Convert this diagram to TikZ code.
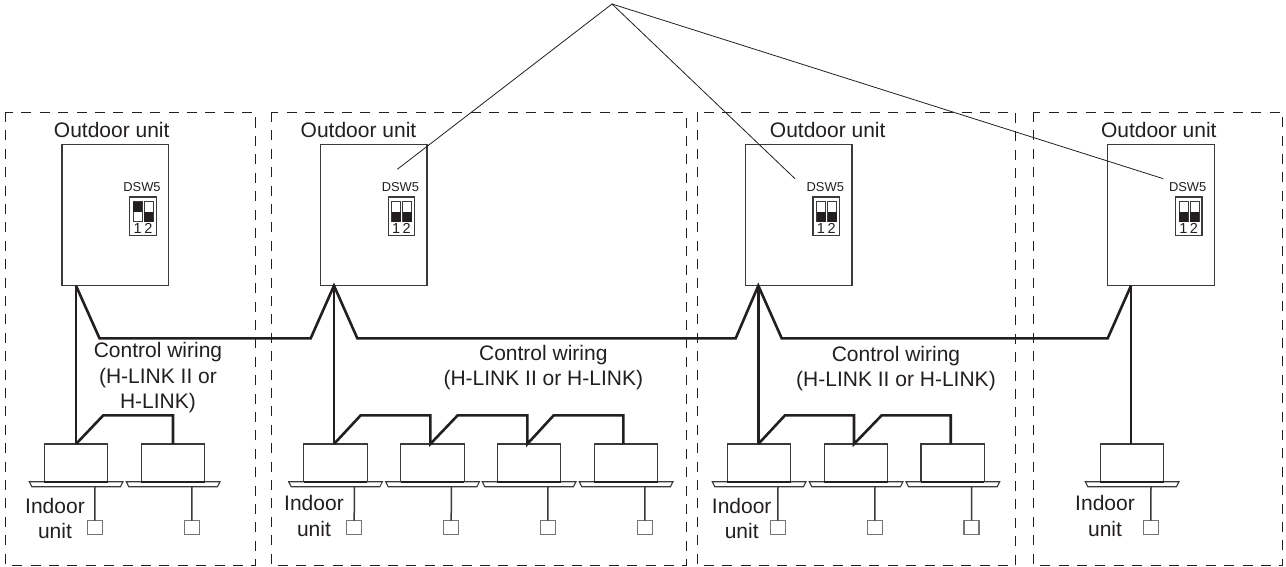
\documentclass[tikz,border=0pt]{standalone}
\usepackage{fontspec}
\setmainfont{Liberation Sans}
\definecolor{ink}{HTML}{231F20}
\definecolor{boxline}{HTML}{3A3A3A}
\tikzset{
  x=1pt,y=-1pt,
  zone/.style={draw=ink,line width=0.9pt,dash pattern=on 10pt off 8.4pt},
  casing/.style={draw=boxline,line width=1.2pt,fill=white,rectangle,inner sep=0pt,outer sep=0pt},
  wire/.style={draw=ink,line width=2.6pt,line join=miter,miter limit=12},
  thinwire/.style={draw=boxline,line width=1.5pt},
  leader/.style={draw=ink,line width=0.8pt},
  label/.style={text=ink,font=\fontsize{21}{25.5}\selectfont,align=center,inner sep=0pt,outer sep=0pt},
  small/.style={text=ink,font=\fontsize{12.9}{15}\selectfont,inner sep=0pt,outer sep=0pt},
  digit/.style={text=ink,font=\fontsize{14.5}{15}\selectfont,inner sep=0pt,outer sep=0pt},
  switchbox/.style={draw=boxline,line width=1.1pt,fill=white,rectangle,inner sep=0pt,outer sep=0pt},
}
% name, left x, wire offset, switch-1 dark half (top y), switch-2 dark half (top y)
\newcommand{\outdoorunit}[5]{
  \node[casing,anchor=north west,minimum width=106.6pt,minimum height=141.4pt] (#1) at (#2,144.3) {};
  \coordinate (#1w) at (#2+#3,285.7);
  \node[small] (#1lab) at (#2+80,186.7) {DSW5};
  \node[switchbox,anchor=north west,minimum width=26.6pt,minimum height=38.3pt] (#1sw) at (#2+67.7,197) {};
  \draw[boxline,line width=1pt,fill=white] (#2+71.3,202) rectangle (#2+80.3,221.7);
  \draw[boxline,line width=1pt,fill=white] (#2+82.3,202) rectangle (#2+91.3,221.7);
  \fill[ink] (#2+71.3,#4) rectangle (#2+80.3,#4+9.85);
  \fill[ink] (#2+82.3,#5) rectangle (#2+91.3,#5+9.85);
  \node[digit] (#1a) at (#2+75.7,228.9) {1};
  \node[digit] (#1b) at (#2+86.3,228.9) {2};
}
% name, left x
\newcommand{\indoorunit}[2]{
  \node[casing,anchor=north west,minimum width=63.4pt,minimum height=37.7pt] (#1) at (#2,444) {};
  \draw[boxline,line width=1.1pt,fill=white] (#2-15,481.7) -- (#2+78.7,481.7) -- (#2+76.2,486.7) -- (#2-12.5,486.7) -- cycle;
  \draw[ink,line width=2pt] (#2,481.7) -- (#2+63.4,481.7);
  \node[casing,draw=boxline!70,anchor=north west,minimum width=15pt,minimum height=13.7pt] (#1r) at (#2+43,520.7) {};
  \draw[thinwire] (#2+50.7,486.7) -- (#1r.north);
}
\begin{document}
\begin{tikzpicture}
\useasboundingbox (0,0) rectangle (1286,567);
\fill[white] (0,0) rectangle (1286,567);
% zones
\draw[zone] (5.7,112) rectangle (255,565.5);
\draw[zone] (271,112) rectangle (686,565.5);
\draw[zone] (697.3,112) rectangle (1015.7,565.5);
\draw[zone] (1033.7,112) rectangle (1282.7,565.5);
% outdoor units
\outdoorunit{oa}{62}{14}{202}{211.85}
\outdoorunit{ob}{320.4}{13.6}{211.85}{211.85}
\outdoorunit{oc}{745.3}{13}{211.85}{211.85}
\outdoorunit{od}{1107.7}{23.3}{211.85}{211.85}
% indoor units
\indoorunit{ia}{44.3}
\indoorunit{ib}{141.3}
\indoorunit{ic}{303.7}
\indoorunit{id}{400.7}
\indoorunit{ie}{497.3}
\indoorunit{if}{594.3}
\indoorunit{ig}{727.3}
\indoorunit{ih}{824.3}
\indoorunit{ii}{921}
\indoorunit{ij}{1100.3}
% control wiring bus
\draw[wire] (oaw) -- (99.5,338.3) -- (310.7,338.3) -- (obw) -- (357.3,338.3) -- (735.7,338.3) -- (ocw) -- (781.7,338.3) -- (1107.7,338.3) -- (odw);
% drops to the indoor units
\coordinate (pa) at (76,444);
\coordinate (pc) at (334,444);
\coordinate (pg) at (758.3,444);
\draw[wire] (oaw) -- (pa);
\draw[wire] (obw) -- (pc);
\draw[wire] (ocw) -- (pg);
\draw[wire] (odw) -- (1131,444);
% indoor links
\draw[wire] (pa) -- (103.3,415.3) -- (173,415.3) -- (173,444);
\draw[wire] (pc) -- (360.7,415.3) -- (430.3,415.3) -- (430.3,444) -- (457.7,415.3) -- (527.3,415.3) -- (527.3,444) -- (553.7,415.3) -- (623.3,415.3) -- (623.3,444);
\draw[wire] (pg) -- (785,415.3) -- (854,415.3) -- (854,444) -- (881.7,415.3) -- (950.7,415.3) -- (950.7,444);
% leaders
\coordinate (apex) at (612,4);
\coordinate (la) at (397.3,169.3);
\coordinate (lb) at (795,178.7);
\coordinate (lc) at (1163.3,178.7);
\draw[leader] (la) -- (apex) -- (lc);
\draw[leader] (apex) -- (lb);
% labels
\node[label] (ta) at (111.7,130) {Outdoor unit};
\node[label] (tb) at (358.5,130) {Outdoor unit};
\node[label] (tc) at (827.7,130) {Outdoor unit};
\node[label] (td) at (1158.8,130) {Outdoor unit};
\node[label] (wa) at (158,378) {Control wiring\\(H-LINK II or\\H-LINK)};
\node[label] (wb) at (543.3,367.5) {Control wiring\\(H-LINK II or H-LINK)};
\node[label] (wc) at (896,368.5) {Control wiring\\(H-LINK II or H-LINK)};
\node[label] (ua) at (55,518.5) {Indoor\\unit};
\node[label] (ub) at (314,516) {Indoor\\unit};
\node[label] (uc) at (741.7,518.5) {Indoor\\unit};
\node[label] (ud) at (1105,516) {Indoor\\unit};
\end{tikzpicture}
\end{document}
